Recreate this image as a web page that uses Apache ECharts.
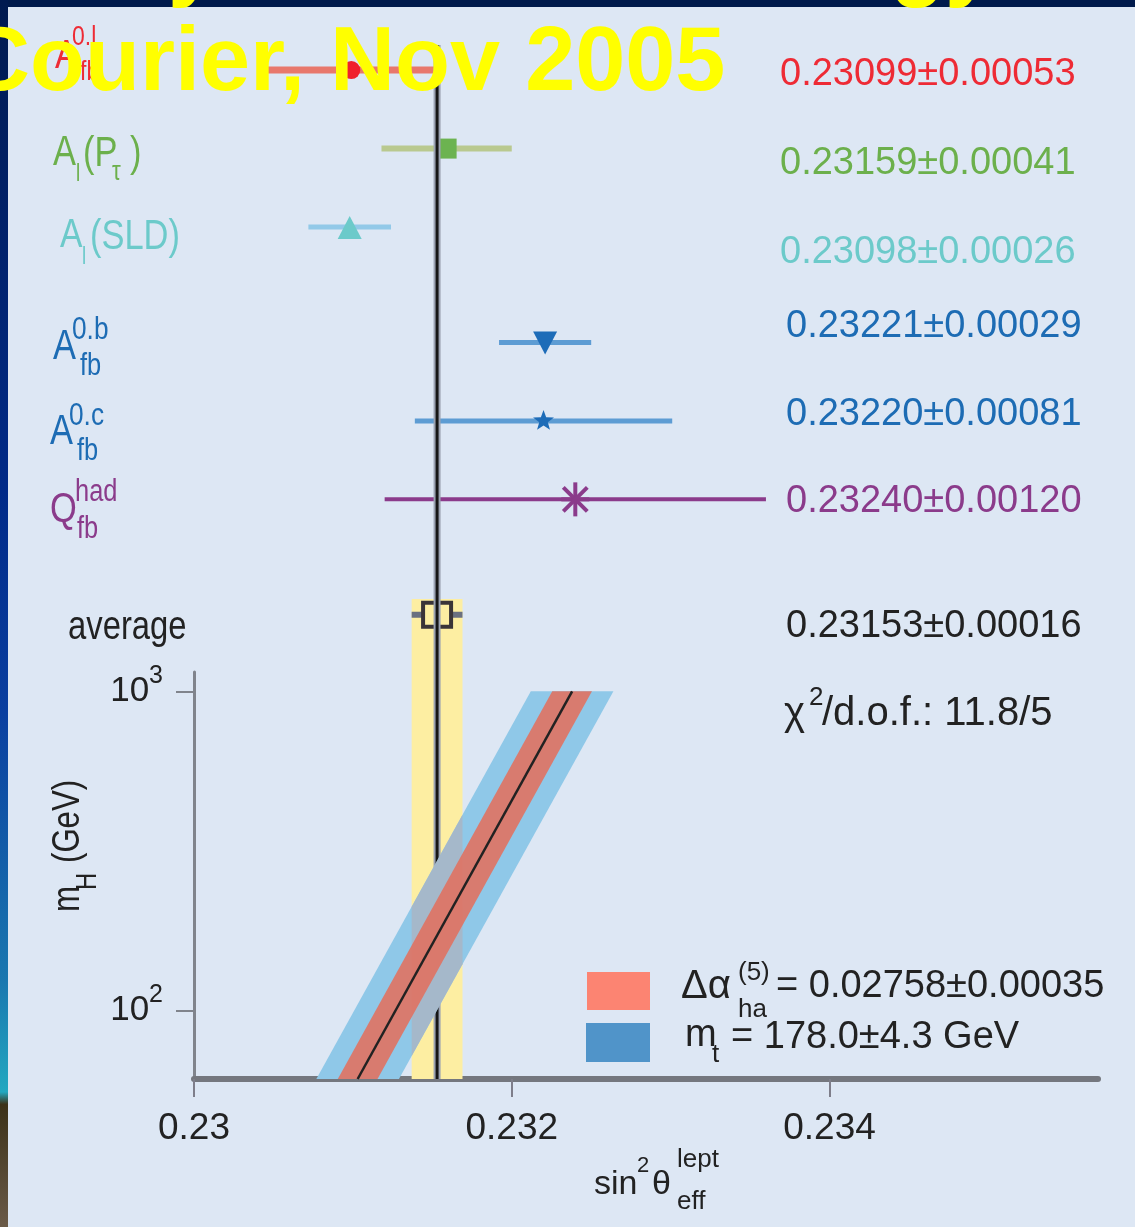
<!DOCTYPE html>
<html><head><meta charset="utf-8">
<script src="https://cdn.jsdelivr.net/npm/echarts@6/dist/echarts.min.js"></script>
<style>html,body{margin:0;padding:0;background:#dde7f4;overflow:hidden}#c{width:1135px;height:1227px}</style>
</head><body><div id="c"></div>
<script>
// ---------------- data ----------------
const measurements = ['A_fb^0,l', 'A_l(P_tau)', 'A_l(SLD)', 'A_fb^0,b', 'A_fb^0,c', 'Q_fb^had', 'average'];
const sin2Value = [0.23099, 0.23159, 0.23098, 0.23221, 0.23220, 0.23240, 0.23153];
const sin2Error = [0.00053, 0.00041, 0.00026, 0.00029, 0.00081, 0.00120, 0.00016];
const measGroup = [0, 0, 0, 1, 1, 1, 2];          // leptonic / hadronic / average
const chi2Label = '/d.o.f.: 11.8/5';
const xTicks = [0.23, 0.232, 0.234];
const mHTicks = [100, 1000];
const bandMH = [61, 1000];                         // GeV, band ends
const bandCentre = [0.23103, 0.23238];             // sin2 at band ends
const alphaHalfWidth = 0.000125;                   // Δα_had band
const mtHalfWidth = 0.00026;                       // m_t band
const legendAlphaValue = '0.02758±0.00035';
const legendMtValue = '178.0±4.3 GeV';

// ---------------- styles ----------------
const SANS = '"Liberation Sans", Arial, Helvetica, sans-serif';
const XMIN = 0.23, XMAX = 0.23569;
const GROUP_GAP = 0.47;
const markerShape = ['circle', 'square', 'triangle', 'triangleDown', 'star', 'asterisk', 'openSquare'];
const markerColors = ['#f0202c', '#6cb350', '#6ccaca', '#1d6cb8', '#1d6cb8', '#8b3b8b', '#3a3438'];
const barColors = ['#e8786c', '#b9c98f', '#92c9e8', '#5d9cd3', '#5d9cd3', '#8b3b8b', '#6a7080'];
const barWidths = [7, 6, 5, 5, 5, 4, 6];
const textColors = ['#ee2b35', '#6cb04c', '#6ccaca', '#1d6cb4', '#1d6cb4', '#8b3b8b', '#222222'];
const YELLOW = '#fdeea2';

const avgIdx = measurements.length - 1;
const rowOf = i => i + GROUP_GAP * measGroup[i];
const measData = measurements.map((m, i) => [sin2Value[i], sin2Error[i], rowOf(i)]);

function renderMeas(params, api) {
  const i = params.dataIndex;
  const v = api.value(0), e = api.value(1), r = api.value(2);
  const a = api.coord([v - e, r]), b = api.coord([v + e, r]), c = api.coord([v, r]);
  const ch = [];
  ch.push({type: 'line', shape: {x1: a[0], y1: a[1], x2: b[0], y2: b[1]}, style: {stroke: barColors[i], lineWidth: barWidths[i]}});
  const cx = c[0], cy = c[1], col = markerColors[i];
  switch (markerShape[i]) {
    case 'circle': ch.push({type: 'circle', shape: {cx, cy, r: 9}, style: {fill: col}}); break;
    case 'square': ch.push({type: 'rect', shape: {x: cx - 10, y: cy - 10, width: 20, height: 20}, style: {fill: col}}); break;
    case 'triangle': ch.push({type: 'polygon', shape: {points: [[cx, cy - 11], [cx - 12, cy + 12], [cx + 12, cy + 12]]}, style: {fill: col}}); break;
    case 'triangleDown': ch.push({type: 'polygon', shape: {points: [[cx - 12, cy - 11], [cx + 12, cy - 11], [cx, cy + 12]]}, style: {fill: col}}); break;
    case 'star': {
      const pts = [];
      for (let k = 0; k < 10; k++) {
        const ang = -Math.PI / 2 + k * Math.PI / 5, rr = k % 2 ? 4.5 : 11;
        pts.push([cx + rr * Math.cos(ang), cy + rr * Math.sin(ang)]);
      }
      ch.push({type: 'polygon', shape: {points: pts}, style: {fill: col}}); break;
    }
    case 'asterisk': {
      const segs = [[0, -17, 0, 17], [-14, 0, 14, 0], [-12, -12, 12, 12], [-12, 12, 12, -12]];
      segs.forEach(s => ch.push({type: 'line', shape: {x1: cx + s[0], y1: cy + s[1], x2: cx + s[2], y2: cy + s[3]}, style: {stroke: col, lineWidth: 4}}));
      break;
    }
    case 'openSquare': ch.push({type: 'rect', shape: {x: cx - 14, y: cy - 12, width: 28, height: 24}, style: {fill: YELLOW, stroke: col, lineWidth: 4}}); break;
  }
  return {type: 'group', children: ch};
}

function renderUpperBand(params, api) {
  const v = api.value(0), e = api.value(1), r = api.value(2);
  const cs = params.coordSys;
  const a = api.coord([v - e, r - 0.2]), b = api.coord([v + e, r - 0.2]);
  return {type: 'rect', shape: {x: a[0], y: a[1], width: b[0] - a[0], height: cs.y + cs.height - a[1]}, style: {fill: YELLOW}};
}
function renderLowerBand(params, api) {
  const v = api.value(0), e = api.value(2);
  const cs = params.coordSys;
  const a = api.coord([v - e, 100]), b = api.coord([v + e, 100]);
  return {type: 'rect', shape: {x: a[0], y: cs.y, width: b[0] - a[0], height: cs.height}, style: {fill: YELLOW}};
}
function renderAvgLine(params, api) {
  const v = api.value(0);
  const cs = params.coordSys;
  const x = api.coord([v, api.value(1)])[0];
  return {type: 'group', children: [
    {type: 'line', shape: {x1: x, y1: cs.y, x2: x, y2: cs.y + cs.height}, style: {stroke: '#9aa2b2', lineWidth: 7}},
    {type: 'line', shape: {x1: x, y1: cs.y, x2: x, y2: cs.y + cs.height}, style: {stroke: '#161616', lineWidth: 3}}
  ]};
}
function clipX(poly, xa, xb) {
  function clip(pts, inside, inter) {
    const out = [];
    for (let k = 0; k < pts.length; k++) {
      const cur = pts[k], prev = pts[(k + pts.length - 1) % pts.length];
      const ci = inside(cur), pi = inside(prev);
      if (ci) { if (!pi) out.push(inter(prev, cur)); out.push(cur); }
      else if (pi) out.push(inter(prev, cur));
    }
    return out;
  }
  const ix = (p, q, x) => { const t = (x - p[0]) / (q[0] - p[0]); return [x, p[1] + t * (q[1] - p[1])]; };
  let r = clip(poly, p => p[0] >= xa, (p, q) => ix(p, q, xa));
  r = clip(r, p => p[0] <= xb, (p, q) => ix(p, q, xb));
  return r;
}
function bandPoly(api, h) {
  const c0 = api.value(0), m0 = api.value(1), c1 = api.value(2), m1 = api.value(3);
  return [api.coord([c0 - h, m0]), api.coord([c1 - h, m1]), api.coord([c1 + h, m1]), api.coord([c0 + h, m0])];
}
function renderMtBand(params, api) {
  const poly = bandPoly(api, mtHalfWidth);
  const xa = api.coord([sin2Value[avgIdx] - sin2Error[avgIdx], 100])[0];
  const xb = api.coord([sin2Value[avgIdx] + sin2Error[avgIdx], 100])[0];
  const grey = clipX(poly, xa, xb);
  return {type: 'group', children: [
    {type: 'polygon', shape: {points: poly}, style: {fill: '#8fc8e8'}},
    {type: 'polygon', shape: {points: grey}, style: {fill: '#a9b5c5', opacity: 0.88}}
  ]};
}
function renderAlphaBand(params, api) {
  const poly = bandPoly(api, alphaHalfWidth);
  const p0 = api.coord([api.value(0), api.value(1)]), p1 = api.coord([api.value(2), api.value(3)]);
  return {type: 'group', children: [
    {type: 'polygon', shape: {points: poly}, style: {fill: '#e07262', opacity: 0.9}},
    {type: 'line', shape: {x1: p0[0], y1: p0[1], x2: p1[0], y2: p1[1]}, style: {stroke: '#222', lineWidth: 2.5}}
  ]};
}

// ---------------- text helpers ----------------
function T(x, y, text, size, color, o) {
  o = o || {};
  return {
    type: 'text', x: x, y: y, scaleX: o.sx || 1, rotation: o.rot || 0, z: o.z || 50, silent: true,
    style: {
      text: text, x: 0, y: 0, fontSize: size, fontFamily: o.ff || SANS, fontWeight: o.fw || 'normal',
      fill: color, align: 'left', verticalAlign: 'middle', textAlign: 'left', textVerticalAlign: 'middle'
    }
  };
}
const N = 0.82; // narrow
const g = [];
// frame pieces
g.push({type: 'rect', shape: {x: 0, y: 0, width: 1135, height: 7}, style: {fill: '#001a4c'}, z: 1, silent: true});
g.push({type: 'rect', shape: {x: 0, y: 0, width: 8, height: 1227}, z: 1, silent: true, style: {fill: {type: 'linear', x: 0, y: 0, x2: 0, y2: 1, colorStops: [
  {offset: 0, color: '#001a50'}, {offset: 0.4, color: '#002a88'}, {offset: 0.58, color: '#0a3fa0'},
  {offset: 0.8, color: '#1a78b0'}, {offset: 0.89, color: '#22a8c0'}, {offset: 0.9, color: '#3c3218'},
  {offset: 1, color: '#6a5a48'}]}}});
// left labels
const c = textColors;
[
  [['A', 55, 57, 41], ['0.l', 72, 37, 28], ['fb', 80, 72, 28]],
  [['A', 53, 153, 42], ['l', 76, 175, 23], ['(P', 83, 154, 42], ['τ', 112, 173, 27], [')', 130, 154, 42]],
  [['A', 60, 236, 41], ['l', 82, 258, 23], ['(SLD)', 90, 237, 42]],
  [['A', 53, 347, 42], ['0.b', 72, 330, 32], ['fb', 80, 366, 31]],
  [['A', 50, 432, 42], ['0.c', 69, 416, 32], ['fb', 77, 451, 31]],
  [['Q', 50, 510, 42], ['had', 75, 492, 31], ['fb', 77, 529, 31]],
  [['average', 68, 628, 40]]
].forEach((parts, i) => parts.forEach(p => g.push(T(p[1], p[2], p[0], p[3], c[i], {sx: N}))));
// right values from data
const valX = [780, 780, 780, 786, 786, 786, 786];
const valY = [75, 164, 253, 327, 415, 502, 627];
sin2Value.forEach((v, i) => g.push(T(valX[i], valY[i], v.toFixed(5) + '±' + sin2Error[i].toFixed(5), 38, c[i])));
g.push(T(784, 714, 'χ', 40, '#222'));
g.push(T(809, 698, '2', 26, '#222'));
g.push(T(822, 714, chi2Label, 40, '#222'));
// legend
g.push({type: 'rect', shape: {x: 587, y: 972, width: 63, height: 38}, style: {fill: '#fc8472'}, z: 40, silent: true});
g.push({type: 'rect', shape: {x: 586, y: 1023, width: 64, height: 39}, style: {fill: '#5094c9'}, z: 40, silent: true});
g.push(T(681, 987, 'Δα', 40, '#222'));
g.push(T(738, 973, '(5)', 26, '#222'));
g.push(T(738, 1010, 'ha', 26, '#222'));
g.push(T(776, 987, '= ' + legendAlphaValue, 38, '#222'));
g.push(T(685, 1036, 'm', 38, '#222'));
g.push(T(712, 1055, 't', 26, '#222'));
g.push(T(731, 1038, '= ' + legendMtValue, 38, '#222'));
// axis titles
g.push(T(69, 912, 'm', 38, '#222', {sx: N, rot: Math.PI / 2}));
g.push(T(88, 890, 'H', 29, '#222', {sx: N, rot: Math.PI / 2}));
g.push(T(69, 863, '(GeV)', 38, '#222', {sx: N, rot: Math.PI / 2}));
g.push(T(594, 1185, 'sin', 34, '#222'));
g.push(T(637, 1166, '2', 22, '#222'));
g.push(T(652, 1185, 'θ', 34, '#222'));
g.push(T(677, 1160, 'lept', 26, '#222'));
g.push(T(677, 1202, 'eff', 26, '#222'));
// yellow slide title
g.push(T(-35, 65, 'Courier, Nov 2005', 90, '#ffff00', {fw: 'bold', z: 200}));
g.push(T(168, -36, 'y', 90, '#ffff00', {fw: 'bold', z: 200}));
g.push(T(890, -36, 'gy', 90, '#ffff00', {fw: 'bold', z: 200}));

const avgRow = rowOf(avgIdx);
const option = {
  backgroundColor: '#dde7f4',
  animation: false,
  grid: [
    {left: 194, top: 45, width: 904, height: 627},
    {left: 194, top: 672, width: 904, height: 407}
  ],
  xAxis: [
    {gridIndex: 0, type: 'value', min: XMIN, max: XMAX, show: false},
    {gridIndex: 1, type: 'value', min: XMIN, max: XMAX, interval: 0.002,
      axisLine: {show: true, onZero: false, lineStyle: {color: '#74777e', width: 6}},
      axisTick: {show: true, customValues: xTicks, length: 18, lineStyle: {color: '#7e7e8a', width: 2}},
      axisLabel: {customValues: xTicks, margin: 31, fontSize: 37, color: '#222', fontFamily: SANS,
        formatter: v => String(+(+v).toFixed(3))},
      splitLine: {show: false}}
  ],
  yAxis: [
    {gridIndex: 0, type: 'value', inverse: true, min: -0.32, max: 7.67, show: false},
    {gridIndex: 1, type: 'log', logBase: 10, min: 61, max: 1150,
      axisLine: {show: true, onZero: false, lineStyle: {color: '#80848c', width: 3}},
      axisTick: {show: true, customValues: mHTicks, length: 18, lineStyle: {color: '#80848c', width: 2}},
      axisLabel: {customValues: mHTicks, margin: 31, color: '#222', fontFamily: SANS,
        formatter: v => '{n|10}{s|' + Math.round(Math.log10(v)) + '}',
        rich: {n: {fontSize: 35, fontFamily: SANS, color: '#222'},
               s: {fontSize: 25, fontFamily: SANS, color: '#222', padding: [0, 0, 31, 0]}}},
      splitLine: {show: false}}
  ],
  graphic: {elements: g},
  series: [
    {type: 'custom', name: 'avgBandUpper', xAxisIndex: 0, yAxisIndex: 0, z: 2, silent: true,
      data: [[sin2Value[avgIdx], sin2Error[avgIdx], avgRow]], encode: {x: 0, y: 2}, renderItem: renderUpperBand},
    {type: 'custom', name: 'measurements', xAxisIndex: 0, yAxisIndex: 0, z: 4, silent: true,
      data: measData, encode: {x: 0, y: 2}, renderItem: renderMeas},
    {type: 'custom', name: 'avgLineUpper', xAxisIndex: 0, yAxisIndex: 0, z: 5, silent: true,
      data: [[sin2Value[avgIdx], avgRow]], encode: {x: 0, y: 1}, renderItem: renderAvgLine},
    {type: 'custom', name: 'avgBandLower', xAxisIndex: 1, yAxisIndex: 1, z: 2, silent: true,
      data: [[sin2Value[avgIdx], 100, sin2Error[avgIdx]]], encode: {x: 0, y: 1}, renderItem: renderLowerBand},
    {type: 'custom', name: 'avgLineLower', xAxisIndex: 1, yAxisIndex: 1, z: 3, silent: true,
      data: [[sin2Value[avgIdx], 100]], encode: {x: 0, y: 1}, renderItem: renderAvgLine},
    {type: 'custom', name: 'm_t', xAxisIndex: 1, yAxisIndex: 1, z: 4, silent: true,
      data: [[bandCentre[0], bandMH[0], bandCentre[1], bandMH[1]]], encode: {x: 0, y: 1}, renderItem: renderMtBand},
    {type: 'custom', name: 'Δα', xAxisIndex: 1, yAxisIndex: 1, z: 5, silent: true,
      data: [[bandCentre[0], bandMH[0], bandCentre[1], bandMH[1]]], encode: {x: 0, y: 1}, renderItem: renderAlphaBand}
  ]
};
const chart = echarts.init(document.getElementById('c'), null, {renderer: 'canvas', width: 1135, height: 1227});
chart.setOption(option);
</script>
</body></html>
